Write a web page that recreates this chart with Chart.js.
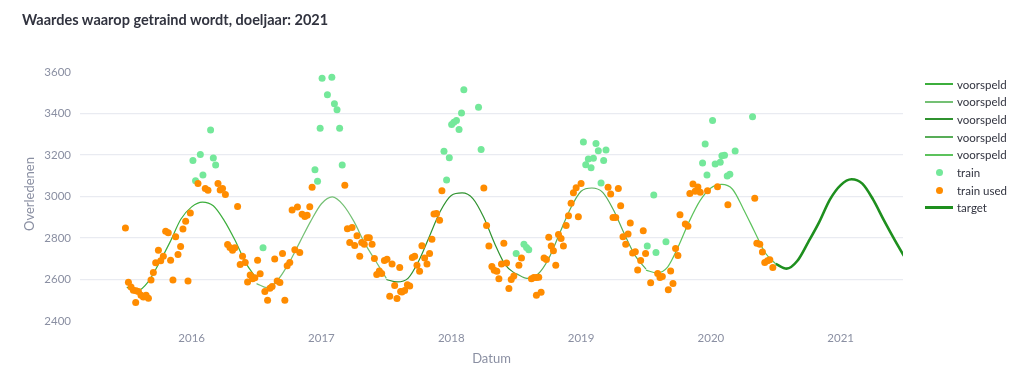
<!DOCTYPE html>
<html>
<head>
<meta charset="utf-8">
<script src="https://cdn.jsdelivr.net/npm/chart.js@4.4.1/dist/chart.umd.min.js"></script>
<style>
  body { margin: 0; background: #fff; font-family: Lato, "Noto Sans", sans-serif; }
  #wrap { position: relative; width: 1024px; height: 381px; overflow: hidden; }
  #titel { position: absolute; left: 22px; top: 11px; font-size: 14.5px; font-weight: bold; color: #31333f; white-space: nowrap; }
  #legenda { position: absolute; left: 925px; top: 76px; }
  .item { position: absolute; left: 0; height: 16px; width: 100px; display: flex; align-items: center; font-size: 11.5px; color: #31333f; white-space: nowrap; }
  .lijn { width: 28px; margin-right: 4px; }
  .stip { width: 28px; margin-right: 4px; display: flex; justify-content: center; }
  .stip span { width: 7px; height: 7px; border-radius: 50%; display: block; }
</style>
</head>
<body>
<div id="wrap">
  <canvas id="grafiek" width="1024" height="381"></canvas>
  <div id="titel">Waardes waarop getraind wordt, doeljaar: 2021</div>
  <div id="legenda"></div>
</div>
<script>
// tick labels
const xTicks = [2016, 2017, 2018, 2019, 2020, 2021];
const yTicks = [2400, 2600, 2800, 3000, 3200, 3400, 3600];

// voorspeld: 5 jaarsegmenten (juli t/m juli), maandwaarden
const voorspeldStart = [2015.5, 2016.5, 2017.5, 2018.5, 2019.5];
const voorspeld1 = [2562, 2546, 2590, 2680, 2780, 2890, 2950, 2973, 2955, 2885, 2790, 2680, 2605];
const voorspeld2 = [2580, 2560, 2600, 2680, 2780, 2880, 2965, 2998, 2960, 2880, 2775, 2690, 2605];
const voorspeld3 = [2600, 2588, 2605, 2690, 2810, 2930, 3005, 3017, 2990, 2900, 2775, 2670, 2625];
const voorspeld4 = [2628, 2605, 2625, 2700, 2820, 2940, 3025, 3041, 3020, 2935, 2820, 2715, 2650];
const voorspeld5 = [2645, 2632, 2660, 2760, 2880, 2980, 3041, 3058, 3035, 2940, 2835, 2730, 2675];

// target: juli 2020 t/m juli 2021
const targetStart = 2020.5;
const targetWaarde = [2675, 2652, 2690, 2780, 2875, 2985, 3055, 3083, 3062, 2985, 2885, 2790, 2700];

// train (niet gebruikt)
const trainDatum = [2016.010, 2016.030, 2016.067, 2016.087, 2016.146, 2016.167, 2016.185, 2016.550,
  2016.950, 2016.970, 2016.990, 2017.005, 2017.046, 2017.080, 2017.100, 2017.120, 2017.140, 2017.160,
  2017.944, 2017.964, 2017.985, 2018.003, 2018.020, 2018.040, 2018.060, 2018.079, 2018.097, 2018.210,
  2018.230, 2018.500, 2018.560, 2018.580, 2018.597, 2019.018, 2019.036, 2019.056, 2019.077, 2019.095,
  2019.115, 2019.133, 2019.154, 2019.174, 2019.192, 2019.510, 2019.560, 2019.577, 2019.654, 2019.936,
  2019.956, 2019.970, 2020.013, 2020.033, 2020.072, 2020.085, 2020.105, 2020.126, 2020.146, 2020.187,
  2020.321];
const trainWaarde = [3173, 3076, 3202, 3104, 3321, 3186, 3152, 2753,
  3129, 3073, 3329, 3570, 3490, 3575, 3447, 3418, 3329, 3152,
  3218, 3079, 3187, 3347, 3358, 3366, 3323, 3403, 3514, 3430,
  3226, 2725, 2770, 2754, 2743, 3263, 3153, 3181, 3139, 3184,
  3255, 3221, 3065, 3173, 3224, 2761, 3007, 2730, 2782, 3162,
  3253, 3104, 3366, 3157, 3165, 3197, 3199, 3099, 3107, 3219,
  3385];

// train used
const usedDatum = [2015.490, 2015.513, 2015.533, 2015.551, 2015.572, 2015.590, 2015.610, 2015.628, 2015.649, 2015.667,
  2015.569, 2015.687, 2015.705, 2015.723, 2015.744, 2015.762, 2015.782, 2015.800, 2015.820, 2015.838,
  2015.856, 2015.877, 2015.895, 2015.915, 2015.933, 2015.954, 2015.972, 2015.990, 2016.049, 2016.105,
  2016.126, 2016.203, 2016.220, 2016.238, 2016.260, 2016.354, 2016.277, 2016.295, 2016.315, 2016.333,
  2016.374, 2016.392, 2016.413, 2016.431, 2016.451, 2016.469, 2016.487, 2016.508, 2016.528, 2016.564,
  2016.585, 2016.603, 2016.620, 2016.640, 2016.659, 2016.680, 2016.700, 2016.718, 2016.736, 2016.756,
  2016.795, 2016.833, 2016.774, 2016.815, 2016.851, 2016.872, 2016.890, 2016.910, 2016.928, 2017.180,
  2017.200, 2017.236, 2017.274, 2017.218, 2017.256, 2017.295, 2017.310, 2017.330, 2017.351, 2017.369,
  2017.390, 2017.408, 2017.426, 2017.446, 2017.464, 2017.485, 2017.505, 2017.544, 2017.564, 2017.526,
  2017.582, 2017.603, 2017.610,
  2017.620, 2017.641, 2017.662, 2017.680, 2017.700, 2017.718, 2017.736, 2017.756, 2017.774, 2017.795,
  2017.813, 2017.833, 2017.851, 2017.867, 2017.887, 2017.910, 2017.928, 2018.251, 2018.272, 2018.290,
  2018.313, 2018.331, 2018.351, 2018.367, 2018.387, 2018.405, 2018.426, 2018.444, 2018.462, 2018.482,
  2018.521, 2018.541, 2018.618, 2018.636, 2018.656, 2018.674, 2018.656, 2018.692, 2018.715, 2018.733,
  2018.751, 2018.770, 2018.787, 2018.805, 2018.826, 2018.846, 2018.864, 2018.885, 2018.903, 2018.923,
  2018.941, 2018.962, 2018.979, 2019.000, 2019.208, 2019.228, 2019.246, 2019.267, 2019.287, 2019.305,
  2019.323, 2019.344, 2019.362, 2019.379, 2019.397, 2019.418, 2019.436, 2019.459, 2019.479, 2019.497,
  2019.536, 2019.590, 2019.608, 2019.626, 2019.672, 2019.690, 2019.708, 2019.728, 2019.746, 2019.762,
  2019.803, 2019.823, 2019.838, 2019.862, 2019.879, 2019.900, 2019.918, 2019.974, 2020.051, 2020.131,
  2020.338, 2020.354, 2020.377, 2020.397, 2020.415, 2020.436, 2020.454, 2020.477];
const usedWaarde = [2848, 2587, 2564, 2548, 2545, 2542, 2524, 2516, 2524, 2509,
  2489, 2598, 2633, 2680, 2741, 2690, 2712, 2833, 2825, 2693,
  2598, 2806, 2720, 2759, 2843, 2881, 2592, 2920, 3063, 3039,
  3030, 3063, 3031, 3039, 3010, 2952, 2769, 2754, 2741, 2753,
  2672, 2712, 2682, 2588, 2621, 2603, 2608, 2693, 2627, 2542,
  2500, 2558, 2566, 2699, 2592, 2585, 2725, 2500, 2666, 2682,
  2743, 2730, 2935, 2949, 2914, 2904, 2909, 2951, 3044, 3054,
  2844, 2851, 2811, 2778, 2764, 2712, 2778, 2770, 2801, 2801,
  2770, 2701, 2624, 2641, 2629, 2691, 2698, 2675, 2571, 2519,
  2508, 2658, 2542,
  2540, 2547, 2574, 2569, 2706, 2712, 2669, 2640, 2762, 2703,
  2675, 2725, 2794, 2915, 2918, 2886, 3028, 3041, 2860, 2761,
  2662, 2645, 2640, 2604, 2674, 2774, 2679, 2556, 2600, 2617,
  2669, 2704, 2604, 2609, 2609, 2611, 2524, 2538, 2704, 2696,
  2804, 2761, 2738, 2669, 2817, 2798, 2761, 2860, 2907, 2967,
  3018, 3042, 2902, 3063, 3044, 3012, 2899, 2899, 3038, 2955,
  2806, 2770, 2819, 2872, 2728, 2733, 2646, 2691, 2835, 2725,
  2584, 2629, 2609, 2614, 2551, 2641, 2580, 2749, 2716, 2912,
  2867, 2856, 3015, 3060, 3025, 3046, 3020, 3028, 3047, 2960,
  2991, 2775, 2770, 2732, 2682, 2690, 2695, 2658];

const voorspeldKleuren = ['#3cae3c', '#74c074', '#2f922f', '#58ad58', '#5cc25c'];
const trainKleur = '#74e89a';
const usedKleur = '#ff8c00';
const targetKleur = '#1e8f1e';

const maandPunten = (start, waarden) => waarden.map((v, i) => ({ x: start + i / 12, y: v }));
const paren = (xs, ys) => xs.map((x, i) => ({ x: x, y: ys[i] }));

const voorspeld = [voorspeld1, voorspeld2, voorspeld3, voorspeld4, voorspeld5];
const datasets = voorspeld.map((w, i) => ({
  label: 'voorspeld',
  data: maandPunten(voorspeldStart[i], w),
  showLine: true,
  borderColor: voorspeldKleuren[i],
  borderWidth: 1.2,
  pointRadius: 0,
  cubicInterpolationMode: 'monotone',
  order: 4
}));
datasets.push({
  label: 'train',
  data: paren(trainDatum, trainWaarde),
  backgroundColor: trainKleur,
  borderWidth: 0,
  pointRadius: 3.5,
  order: 3
});
datasets.push({
  label: 'train used',
  data: paren(usedDatum, usedWaarde),
  backgroundColor: usedKleur,
  borderWidth: 0,
  pointRadius: 3.5,
  order: 2
});
datasets.push({
  label: 'target',
  data: maandPunten(targetStart, targetWaarde),
  showLine: true,
  borderColor: targetKleur,
  borderWidth: 2.6,
  pointRadius: 0,
  cubicInterpolationMode: 'monotone',
  order: 1
});

const tickKleur = '#8a8fa2';

new Chart(document.getElementById('grafiek'), {
  type: 'scatter',
  data: { datasets: datasets },
  options: {
    responsive: false,
    animation: false,
    layout: { padding: { top: 60, right: 121, bottom: 0, left: 0 } },
    plugins: { legend: { display: false }, tooltip: { enabled: false } },
    scales: {
      x: {
        type: 'linear',
        min: 2015.14,
        max: 2021.48,
        grid: { display: false, drawTicks: false },
        border: { display: false },
        afterBuildTicks: s => { s.ticks = xTicks.map(v => ({ value: v })); },
        afterFit: s => { s.height = 53; },
        ticks: { padding: 3, color: tickKleur, font: { family: 'Lato', size: 11.5 }, callback: v => String(v), maxRotation: 0 },
        title: { display: true, text: 'Datum', color: tickKleur, font: { family: 'Lato', size: 13 }, padding: { top: 0, bottom: 14 } }
      },
      y: {
        min: 2366,
        max: 3658,
        grid: {
          drawTicks: false,
          lineWidth: 1.2,
          color: c => (c.tick && (c.tick.value === 2400 || c.tick.value === 3600)) ? 'rgba(0,0,0,0)' : '#e9ebf1'
        },
        border: { display: false },
        afterBuildTicks: s => { s.ticks = yTicks.map(v => ({ value: v })); },
        afterFit: s => { s.width = 80; },
        ticks: { padding: 9, color: tickKleur, font: { family: 'Lato', size: 11.5 }, callback: v => String(v) },
        title: { display: true, text: 'Overledenen', color: tickKleur, font: { family: 'Lato', size: 13 }, padding: { top: 22, bottom: 0 } }
      }
    }
  }
});

// legenda
const legendaItems = [
  { tekst: 'voorspeld', soort: 'lijn', kleur: voorspeldKleuren[0], dikte: 2 },
  { tekst: 'voorspeld', soort: 'lijn', kleur: voorspeldKleuren[1], dikte: 2 },
  { tekst: 'voorspeld', soort: 'lijn', kleur: voorspeldKleuren[2], dikte: 2 },
  { tekst: 'voorspeld', soort: 'lijn', kleur: voorspeldKleuren[3], dikte: 2 },
  { tekst: 'voorspeld', soort: 'lijn', kleur: voorspeldKleuren[4], dikte: 2 },
  { tekst: 'train', soort: 'stip', kleur: trainKleur },
  { tekst: 'train used', soort: 'stip', kleur: usedKleur },
  { tekst: 'target', soort: 'lijn', kleur: targetKleur, dikte: 3 }
];
const legenda = document.getElementById('legenda');
legendaItems.forEach((it, i) => {
  const d = document.createElement('div');
  d.className = 'item';
  d.style.top = (i * 17.7) + 'px';
  if (it.soort === 'lijn') {
    d.innerHTML = '<div class="lijn" style="border-top:' + it.dikte + 'px solid ' + it.kleur + '"></div>' + it.tekst;
  } else {
    d.innerHTML = '<div class="stip"><span style="background:' + it.kleur + '"></span></div>' + it.tekst;
  }
  legenda.appendChild(d);
});
</script>
</body>
</html>
